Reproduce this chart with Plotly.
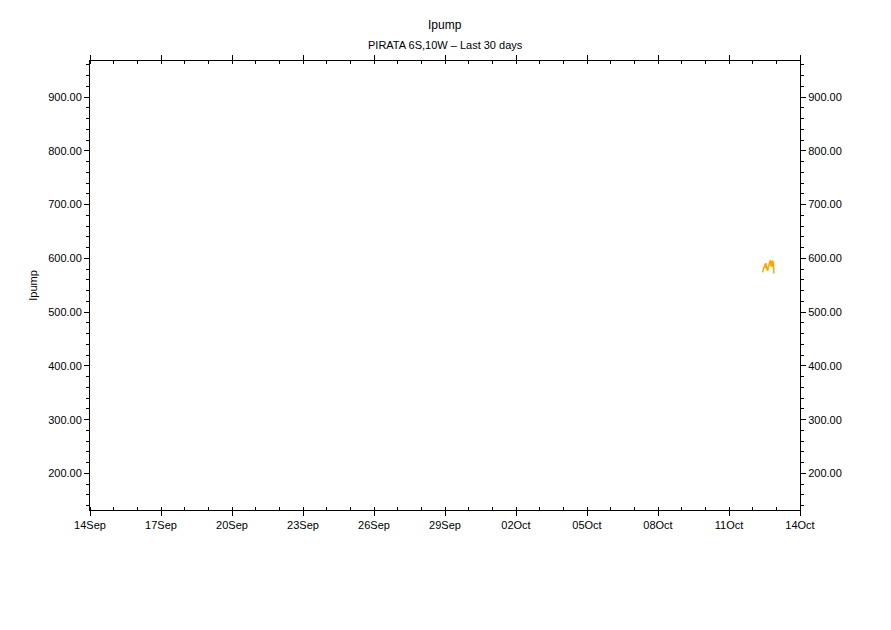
import plotly.graph_objects as go

# Data
times = [
    "2024-10-12 10:00", "2024-10-12 10:30", "2024-10-12 11:00", "2024-10-12 11:30",
    "2024-10-12 12:00", "2024-10-12 12:30", "2024-10-12 13:00", "2024-10-12 13:30",
    "2024-10-12 14:00", "2024-10-12 14:30", "2024-10-12 15:00", "2024-10-12 15:30",
    "2024-10-12 16:00", "2024-10-12 16:30", "2024-10-12 17:00", "2024-10-12 17:30",
    "2024-10-12 18:00", "2024-10-12 18:30", "2024-10-12 19:00", "2024-10-12 19:30",
    "2024-10-12 20:00", "2024-10-12 20:30", "2024-10-12 21:00", "2024-10-12 21:30",
]
ipump = [574, 578, 576, 584, 582, 590, 586, 591, 580, 584, 577, 579,
         588, 585, 594, 590, 597, 586, 595, 584, 596, 592, 594, 572]

title_text = "Ipump"
subtitle_text = "PIRATA 6S,10W \u2013 Last 30 days"
y_label = "Ipump"
x_range = ["2024-09-14", "2024-10-14"]
y_range = [132, 967]
y_ticks = [200, 300, 400, 500, 600, 700, 800, 900]

FONT = "Liberation Sans, Arial, sans-serif"

fig = go.Figure()
fig.add_trace(go.Scatter(x=times, y=ipump, mode="lines",
                         line=dict(color="#FFA500", width=1.5),
                         showlegend=False, hoverinfo="x+y"))
# duplicate on right axis so its labels render (invisible)
fig.add_trace(go.Scatter(x=times, y=ipump, mode="lines", yaxis="y2",
                         line=dict(color="rgba(0,0,0,0)", width=0),
                         showlegend=False, hoverinfo="skip"))

axis_common = dict(showgrid=False, zeroline=False, showline=True,
                   linecolor="black", linewidth=1, ticks="outside",
                   ticklen=5, tickcolor="black",
                   tickfont=dict(family=FONT, size=11, color="black"))

fig.update_layout(
    width=891, height=630,
    margin=dict(l=82, r=99, t=53, b=128),
    paper_bgcolor="white", plot_bgcolor="white",
    font=dict(family=FONT, size=11, color="black"),
    xaxis=dict(range=x_range, type="date", tickformat="%d%b", dtick=3 * 86400000,
               tick0="2024-09-14", mirror="ticks",
               minor=dict(dtick=86400000, ticks="inside", ticklen=3, tickcolor="black"),
               **axis_common),
    yaxis=dict(range=y_range, tickvals=y_ticks, tickformat=".2f", mirror=True,
               title=dict(text=y_label, font=dict(family=FONT, size=11), standoff=8),
               minor=dict(dtick=20, tick0=0, ticks="outside", ticklen=3, tickcolor="black"),
               **axis_common),
    yaxis2=dict(range=y_range, tickvals=y_ticks, tickformat=".2f", overlaying="y",
                side="right", matches="y",
                minor=dict(dtick=20, tick0=0, ticks="outside", ticklen=3, tickcolor="black"),
                **axis_common),
    annotations=[
        dict(text=title_text, x=0.5, xref="paper", y=1, yref="paper", yanchor="bottom",
             yshift=27, showarrow=False,
             font=dict(family=FONT, size=12, color="black")),
        dict(text=subtitle_text, x=0.5, xref="paper", y=1, yref="paper", yanchor="bottom",
             yshift=8, showarrow=False,
             font=dict(family=FONT, size=11, color="black")),
    ],
)

fig.write_html("out.html")
